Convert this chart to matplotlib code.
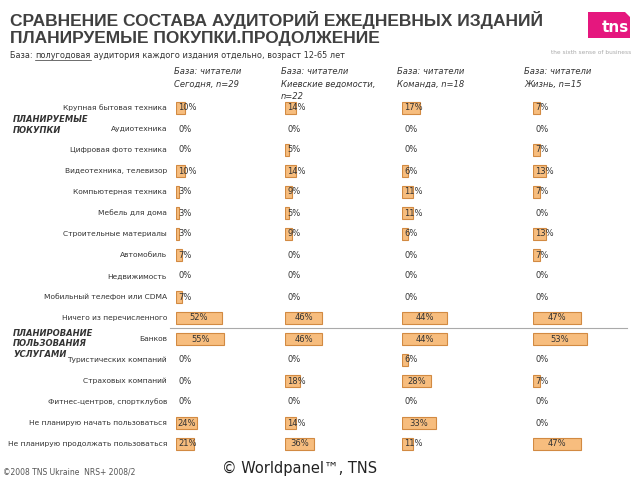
#!/usr/bin/env python3
# -*- coding: utf-8 -*-

"""Сравнение состава аудиторий ежедневных изданий - планируемые покупки."""

import matplotlib
matplotlib.use("Agg")
import matplotlib.pyplot as plt
from matplotlib.patches import Polygon

ROWS = [
    "Крупная бытовая техника",
    "Аудиотехника",
    "Цифровая фото техника",
    "Видеотехника, телевизор",
    "Компьютерная техника",
    "Мебель для дома",
    "Строительные материалы",
    "Автомобиль",
    "Недвижимость",
    "Мобильный телефон или CDMA",
    "Ничего из перечисленного",
    "Банков",
    "Туристических компаний",
    "Страховых компаний",
    "Фитнес-центров, спортклубов",
    "Не планирую начать пользоваться",
    "Не планирую продолжать пользоваться",
]

HEADERS = [
    "База: читатели\nСегодня, n=29",
    "База: читатели\nКиевские ведомости,\nn=22",
    "База: читатели\nКоманда, n=18",
    "База: читатели\nЖизнь, n=15",
]

SEGODNYA = [10, 0, 0, 10, 3, 3, 3, 7, 0, 7, 52, 55, 0, 0, 0, 24, 21]
KIEV_VED = [14, 0, 5, 14, 9, 5, 9, 0, 0, 0, 46, 46, 0, 18, 0, 14, 36]
KOMANDA = [17, 0, 0, 6, 11, 11, 6, 0, 0, 0, 44, 44, 6, 28, 0, 33, 11]
ZHIZN = [7, 0, 7, 13, 7, 0, 13, 7, 0, 0, 47, 53, 0, 7, 0, 0, 47]
SERIES = [SEGODNYA, KIEV_VED, KOMANDA, ZHIZN]

W, H = 640, 480
BAR_FACE = "#F7BD7E"
BAR_EDGE = "#D28A42"
TXT = "#333333"


def px_x(x):
    return x / W


def px_y(y):
    return 1 - y / H


def main():
    """Main function."""
    fig = plt.figure(figsize=(6.4, 4.8), dpi=100)
    fig.patch.set_facecolor("white")

    # title
    fig.text(px_x(10), px_y(20), "СРАВНЕНИЕ СОСТАВА АУДИТОРИЙ ЕЖЕДНЕВНЫХ ИЗДАНИЙ",
             fontsize=12.5, color="#404040", va="center", ha="left",
             family="Liberation Sans", fontweight="bold")
    fig.text(px_x(10), px_y(38), "ПЛАНИРУЕМЫЕ ПОКУПКИ.ПРОДОЛЖЕНИЕ",
             fontsize=12.5, color="#404040", va="center", ha="left",
             family="Liberation Sans", fontweight="bold")

    # subtitle with underlined word
    fig.canvas.draw()
    r = fig.canvas.get_renderer()
    x0 = px_x(10)
    yb = px_y(55)
    parts = ["База: ", "полугодовая", " аудитория каждого издания отдельно, возраст 12-65 лет"]
    for i, p in enumerate(parts):
        t = fig.text(x0, yb, p, fontsize=5.9, color=TXT, va="center", ha="left")
        bb = t.get_window_extent(r)
        if i == 1:
            fig.add_artist(plt.Line2D([bb.x0 / W, bb.x1 / W], [bb.y0 / H, bb.y0 / H],
                                      color=TXT, lw=0.5))
        x0 = bb.x1 / W

    # tns logo (pink square with folded corner)
    lx0, lx1, ly0, ly1 = 588, 630, 12, 38
    logo = Polygon([(px_x(lx0), px_y(ly0)), (px_x(lx1 - 5), px_y(ly0)),
                    (px_x(lx1), px_y(ly0 + 5)), (px_x(lx1), px_y(ly1)),
                    (px_x(lx0), px_y(ly1))],
                   closed=True, transform=fig.transFigure,
                   facecolor="#E5177E", edgecolor="none")
    fig.add_artist(logo)
    fig.text(px_x(615), px_y(27), "tns", fontsize=11, color="white",
             fontweight="bold", ha="center", va="center")
    fig.text(px_x(631), px_y(52), "the sixth sense of business", fontsize=4.2,
             color="#aaaaaa", ha="right", va="center")

    # column headers
    head_x = [174, 281, 397, 524]
    for hx, h in zip(head_x, HEADERS):
        fig.text(px_x(hx), px_y(67), h, fontsize=6, style="italic",
                 color=TXT, ha="left", va="top", linespacing=1.5)

    # section labels
    fig.text(px_x(13), px_y(125), "ПЛАНИРУЕМЫЕ\nПОКУПКИ", fontsize=6,
             style="italic", fontweight="bold", color=TXT, ha="left",
             va="center", linespacing=1.35)
    fig.text(px_x(13), px_y(344), "ПЛАНИРОВАНИЕ\nПОЛЬЗОВАНИЯ\nУСЛУГАМИ",
             fontsize=6, style="italic", fontweight="bold", color=TXT,
             ha="left", va="center", linespacing=1.25)

    # separator line
    fig.add_artist(plt.Line2D([px_x(170), px_x(627)], [px_y(328), px_y(328)],
                              color="#aaaaaa", lw=0.8))

    n = len(ROWS)
    top, bot = 108 - 10.5, 444 + 10.5
    ypos = list(range(n))

    # row labels
    for i, lab in enumerate(ROWS):
        yy = 108 + i * 21
        fig.text(px_x(167), px_y(yy), lab, fontsize=5.4, color=TXT,
                 ha="right", va="center")

    # bars, one axes per column
    col_left = [176, 285, 402, 533]
    px_per = [0.88, 0.81, 1.03, 1.02]
    ax_w = 100
    for left, scale, vals in zip(col_left, px_per, SERIES):
        ax = fig.add_axes([px_x(left), px_y(bot), ax_w / W, (bot - top) / H])
        ax.set_xlim(0, ax_w / scale)
        ax.set_ylim(n - 0.5, -0.5)
        ax.axis("off")
        yb_ = [y for y, v in zip(ypos, vals) if v > 0]
        vb_ = [v for v in vals if v > 0]
        ax.barh(yb_, vb_, height=0.55, color=BAR_FACE, edgecolor=BAR_EDGE,
                linewidth=0.8, left=0)
        for y, v in zip(ypos, vals):
            label = f"{v}%"
            if v * scale > 19:
                ax.text(v / 2, y, label, fontsize=6, color=TXT,
                        ha="center", va="center")
            else:
                ax.annotate(label, (0, y), xytext=(1.5, 0),
                            textcoords="offset points", fontsize=6,
                            color=TXT, ha="left", va="center")

    # footer
    fig.text(px_x(3), px_y(472), "©2008 TNS Ukraine  NRS+ 2008/2",
             fontsize=5.5, color="#555555", ha="left", va="center")
    fig.text(px_x(300), px_y(468), "© Worldpanel™, TNS", fontsize=10.5,
             color="#222222", ha="center", va="center")

    fig.savefig("out.png", dpi=100)


if __name__ == "__main__":
    main()
